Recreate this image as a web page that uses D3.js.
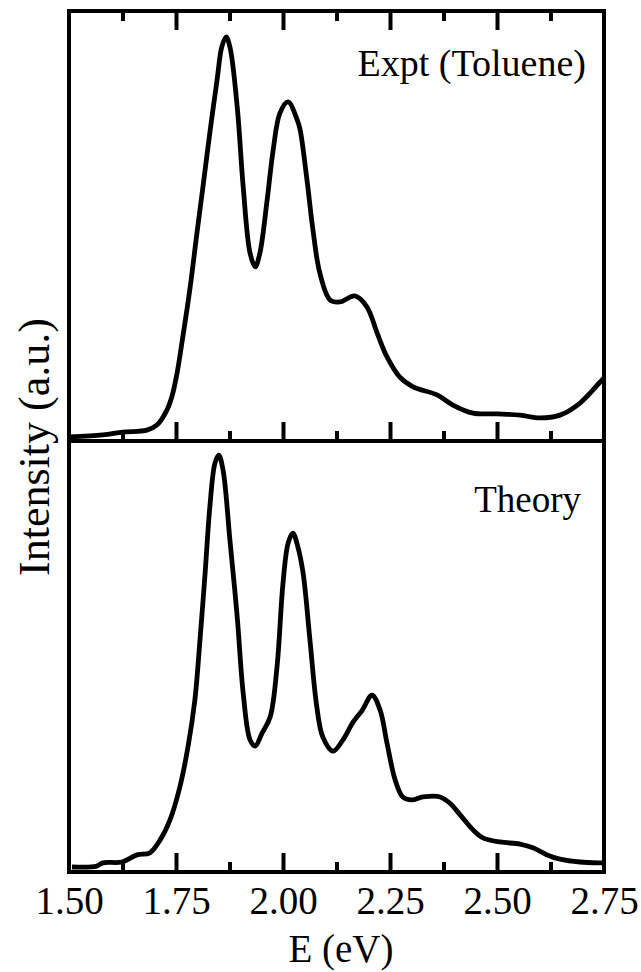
<!DOCTYPE html>
<html>
<head>
<meta charset="utf-8">
<script src="https://cdn.jsdelivr.net/npm/d3@7"></script>
<style>
  html, body { margin: 0; padding: 0; background: #fff; }
  svg { display: block; font-family: "Liberation Serif", "Times New Roman", serif; }
</style>
</head>
<body>
<div id="chart"></div>
<script>
// energia (eV) e intensidade (u.a.)
const exptE = [1.502, 1.579, 1.626, 1.682, 1.706, 1.729, 1.741, 1.752, 1.766, 1.783, 1.799, 1.813, 1.829, 1.846, 1.857, 1.867, 1.876, 1.893, 1.907, 1.923, 1.935, 1.946, 1.963, 1.977, 1.993, 2.012, 2.033, 2.040, 2.056, 2.070, 2.086, 2.110, 2.133, 2.168, 2.196, 2.220, 2.243, 2.273, 2.304, 2.360, 2.397, 2.444, 2.500, 2.554, 2.600, 2.647, 2.694, 2.741, 2.750];
const exptI = [0.010, 0.015, 0.022, 0.027, 0.040, 0.077, 0.112, 0.165, 0.258, 0.380, 0.515, 0.629, 0.762, 0.894, 0.975, 1.000, 0.975, 0.827, 0.629, 0.465, 0.431, 0.465, 0.597, 0.720, 0.812, 0.839, 0.795, 0.770, 0.646, 0.522, 0.416, 0.349, 0.344, 0.359, 0.332, 0.267, 0.208, 0.158, 0.134, 0.114, 0.089, 0.069, 0.067, 0.064, 0.057, 0.064, 0.094, 0.146, 0.156];

const theoE = [1.507, 1.565, 1.579, 1.624, 1.659, 1.689, 1.713, 1.736, 1.759, 1.778, 1.794, 1.806, 1.818, 1.829, 1.841, 1.850, 1.860, 1.876, 1.893, 1.907, 1.923, 1.935, 1.951, 1.970, 1.986, 2.000, 2.012, 2.023, 2.035, 2.047, 2.063, 2.079, 2.093, 2.117, 2.140, 2.164, 2.185, 2.208, 2.227, 2.243, 2.262, 2.280, 2.301, 2.327, 2.367, 2.390, 2.414, 2.444, 2.467, 2.507, 2.554, 2.584, 2.617, 2.647, 2.694, 2.741, 2.750];
const theoI = [0.012, 0.014, 0.022, 0.024, 0.041, 0.046, 0.077, 0.125, 0.204, 0.300, 0.412, 0.556, 0.717, 0.875, 0.981, 1.000, 0.964, 0.796, 0.612, 0.429, 0.317, 0.302, 0.333, 0.372, 0.492, 0.693, 0.789, 0.813, 0.779, 0.717, 0.556, 0.396, 0.324, 0.290, 0.317, 0.360, 0.388, 0.424, 0.388, 0.309, 0.221, 0.180, 0.173, 0.180, 0.180, 0.165, 0.137, 0.101, 0.082, 0.072, 0.067, 0.058, 0.041, 0.031, 0.024, 0.022, 0.022];

const majorTicks = [1.50, 1.75, 2.00, 2.25, 2.50, 2.75];
const minorTicks = [1.625, 1.875, 2.125, 2.375, 2.625];
const panelLabels = ["Expt (Toluene)", "Theory"];

const W = 641, H = 972;
const mLeft = 69, mRight = 604, mTop = 11, mMid = 441, mBottom = 872;

const svg = d3.select("#chart").append("svg")
    .attr("width", W)
    .attr("height", H);

const x = d3.scaleLinear().domain([1.5, 2.75]).range([mLeft, mRight]);
const yTop = d3.scaleLinear().domain([0, 1.064]).range([mMid, mTop]);
const yBot = d3.scaleLinear().domain([0, 1.034]).range([mBottom, mMid]);

svg.append("clipPath").attr("id", "clip")
    .append("rect")
    .attr("x", mLeft).attr("y", mTop)
    .attr("width", mRight - mLeft).attr("height", mBottom - mTop);

// curvas
const panels = [
    { E: exptE, I: exptI, y: yTop },
    { E: theoE, I: theoI, y: yBot }
];

panels.forEach(p => {
    const line = d3.line()
        .x(i => x(p.E[i]))
        .y(i => p.y(p.I[i]))
        .curve(d3.curveCatmullRom.alpha(0.5));
    svg.append("path")
        .attr("clip-path", "url(#clip)")
        .attr("d", line(d3.range(p.E.length)))
        .attr("fill", "none")
        .attr("stroke", "#000")
        .attr("stroke-width", 4.8)
        .attr("stroke-linejoin", "round");
});

// marcas internas: borda superior, divisória e borda inferior
const inner = majorTicks.slice(1, -1);
function tickRow(y, axisFn) {
    const gMaj = svg.append("g").attr("transform", `translate(0,${y})`)
        .call(axisFn(x).tickValues(inner).tickSize(19).tickFormat(""));
    const gMin = svg.append("g").attr("transform", `translate(0,${y})`)
        .call(axisFn(x).tickValues(minorTicks).tickSize(10).tickFormat(""));
    [gMaj, gMin].forEach(g => {
        g.select(".domain").remove();
        g.selectAll("line").attr("stroke", "#000").attr("stroke-width", 4);
    });
}
tickRow(mTop, d3.axisBottom);
tickRow(mMid, d3.axisTop);
tickRow(mBottom, d3.axisTop);

// moldura
svg.append("rect")
    .attr("x", mLeft).attr("y", mTop)
    .attr("width", mRight - mLeft).attr("height", mBottom - mTop)
    .attr("fill", "none")
    .attr("stroke", "#000")
    .attr("stroke-width", 4);

svg.append("line")
    .attr("x1", mLeft).attr("x2", mRight)
    .attr("y1", mMid).attr("y2", mMid)
    .attr("stroke", "#000")
    .attr("stroke-width", 4);

// rótulos do eixo x
const xAxis = svg.append("g")
    .attr("transform", `translate(0,${mBottom})`)
    .call(d3.axisBottom(x).tickValues(majorTicks).tickSize(0).tickPadding(0).tickFormat(d3.format(".2f")));
xAxis.select(".domain").remove();
xAxis.selectAll("text")
    .attr("y", 42)
    .attr("dy", 0)
    .attr("font-size", 39)
    .attr("font-family", "Liberation Serif, serif")
    .attr("fill", "#000");

svg.append("text")
    .attr("x", 341)
    .attr("y", 962)
    .attr("text-anchor", "middle")
    .attr("font-size", 39)
    .text("E (eV)");

svg.append("text")
    .attr("transform", "translate(49,447) rotate(-90)")
    .attr("text-anchor", "middle")
    .attr("font-size", 44)
    .text("Intensity (a.u.)");

// rótulos dos painéis
svg.append("text")
    .attr("x", 586).attr("y", 76)
    .attr("text-anchor", "end")
    .attr("font-size", 38)
    .text(panelLabels[0]);

svg.append("text")
    .attr("x", 581).attr("y", 512)
    .attr("text-anchor", "end")
    .attr("font-size", 37)
    .text(panelLabels[1]);
</script>
</body>
</html>
